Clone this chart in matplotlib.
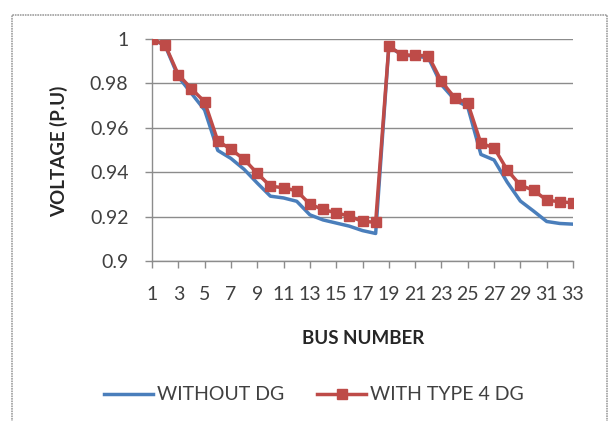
import matplotlib
matplotlib.use("Agg")
import matplotlib.pyplot as plt
from matplotlib.patches import Rectangle

bus = list(range(1, 34))
without_dg = [1.0, 0.997, 0.983, 0.9755, 0.968, 0.9498, 0.9462, 0.9413, 0.9351, 0.9292,
              0.9284, 0.9269, 0.9208, 0.9185, 0.9171, 0.9157, 0.9137, 0.9124, 0.9965, 0.9929,
              0.9922, 0.9916, 0.9794, 0.9727, 0.9694, 0.9480, 0.9455, 0.9355, 0.9270, 0.9225,
              0.9178, 0.9169, 0.9166]
with_dg = [1.0, 0.9973, 0.9839, 0.9776, 0.9717, 0.9541, 0.9503, 0.9458, 0.9395, 0.9337,
           0.9330, 0.9316, 0.9256, 0.9232, 0.9217, 0.9202, 0.9178, 0.9175, 0.9967, 0.9929,
           0.9926, 0.9925, 0.9809, 0.9736, 0.9711, 0.9530, 0.9510, 0.9410, 0.9341, 0.9319,
           0.9274, 0.9267, 0.9262]
xticks = list(range(1, 34, 2))
yticks = [0.9, 0.92, 0.94, 0.96, 0.98, 1.0]
ytick_labels = ["0.9", "0.92", "0.94", "0.96", "0.98", "1"]

plt.rcParams['font.family'] = ['Lato', 'DejaVu Sans']

fig = plt.figure(figsize=(6.10, 4.21), dpi=100)
ax = fig.add_axes([152/610, 1-261/421, (573-152)/610, (261-39)/421])

blue = '#4A7EBB'
red = '#BE4B48'
ax.plot(bus, without_dg, color=blue, lw=2.5, label='WITHOUT DG', zorder=3)
ax.plot(bus, with_dg, color=red, lw=2.5, marker='s', markersize=6.5, label='WITH TYPE 4 DG', zorder=4)

ax.set_xlim(1, 33)
ax.set_ylim(0.9, 1.0)
ax.set_yticks(yticks)
ax.set_yticklabels(ytick_labels)
ax.set_xticks(xticks)
ax.set_xticklabels([str(t) for t in xticks])
ax.grid(axis='y', color='#8c8c8c', lw=1.0)
ax.set_axisbelow(True)
for s in ['top', 'right']:
    ax.spines[s].set_visible(False)
for s in ['left', 'bottom']:
    ax.spines[s].set_color('#8c8c8c')
    ax.spines[s].set_linewidth(1.0)
ax.tick_params(axis='both', colors='#8c8c8c', length=5, width=1.0, labelcolor='#404040', labelsize=14)
ax.tick_params(axis='x', pad=13)
ax.tick_params(axis='y', pad=12)

fig.text(59/610, 1-151/421, 'VOLTAGE (P.U)', rotation=90, ha='center', va='center',
         fontsize=13.5, fontweight='bold', color='#262626')
fig.text(363/610, 1-338/421, 'BUS NUMBER', ha='center', va='center',
         fontsize=13.5, fontweight='bold', color='#262626')

leg = ax.legend(loc='center', bbox_to_anchor=(314/610, 1-395/421), bbox_transform=fig.transFigure,
                ncol=2, frameon=False, fontsize=14, handlelength=2.5, handletextpad=0.2,
                columnspacing=1.7, labelcolor='#404040', borderaxespad=0, borderpad=0)

fig.patches.append(Rectangle((12/610, -0.05), (607-12)/610, 1.05-15/421, transform=fig.transFigure,
                             fill=False, edgecolor='#a0a0a0', lw=1.2, linestyle=(0, (1, 0.5))))

fig.savefig('out.png', dpi=100)
